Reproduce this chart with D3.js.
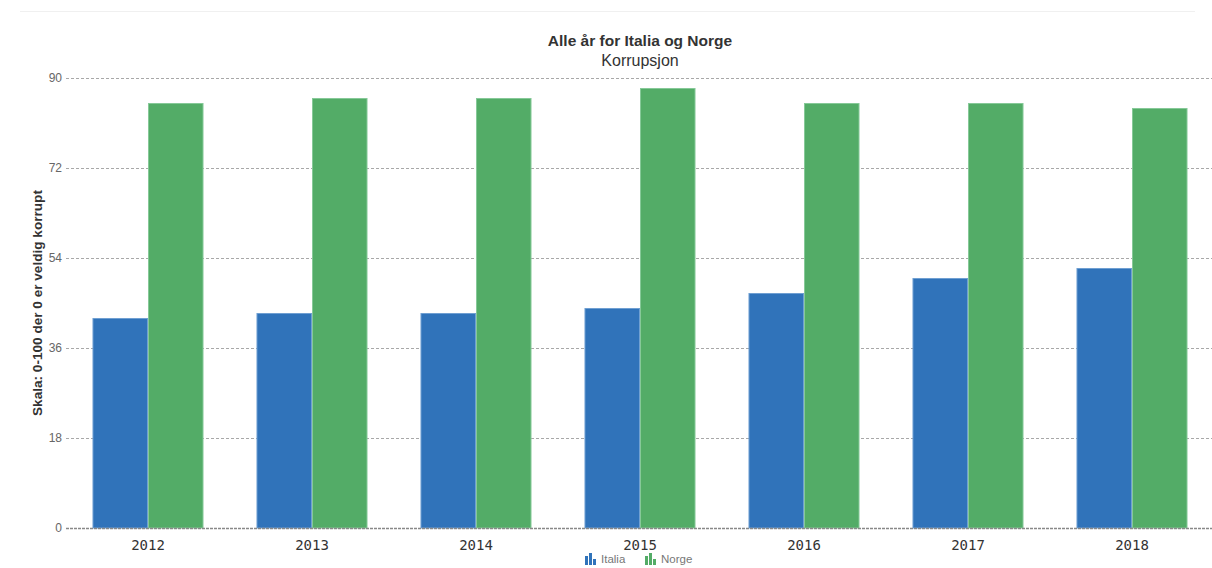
<!DOCTYPE html>
<html><head><meta charset="utf-8">
<script src="https://cdn.jsdelivr.net/npm/d3@7"></script>
<style>
html,body{margin:0;padding:0;background:#fff;}
svg{display:block;font-family:"Liberation Sans",Arial,sans-serif;}
</style></head>
<body>
<svg id="chart" width="1212" height="568"></svg>
<script>
const categories = ["2012","2013","2014","2015","2016","2017","2018"];
const seriesNames = ["Italia","Norge"];
const italia = [42,43,43,44,47,50,52];
const norge = [85,86,86,88,85,85,84];
const yTicks = [0,18,36,54,72,90];
const colors = ["#3073ba","#53ac67"];
const strokes = ["#6f9fd2","#86c998"];

const svg = d3.select("#chart");
const x0 = d3.scaleBand().domain(categories).range([66,1214]).paddingInner(0.323).paddingOuter(0.1615);
const x1 = d3.scaleBand().domain(seriesNames).range([0,x0.bandwidth()]);
const y = d3.scaleLinear().domain([0,90]).range([528,78]);

// top faint border
svg.append("line").attr("x1",20).attr("x2",1195).attr("y1",11.5).attr("y2",11.5).attr("stroke","#f0f0f0");

// gridlines
const grid = svg.append("g");
grid.selectAll("line").data(yTicks.filter(d=>d>0)).join("line")
  .attr("x1",66).attr("x2",1212).attr("y1",d=>Math.round(y(d))+0.5).attr("y2",d=>Math.round(y(d))+0.5)
  .attr("stroke","#a8a8a8").attr("stroke-dasharray","3,2").attr("stroke-width",1);

// y axis labels
const yAxis = d3.axisLeft(y).tickValues(yTicks).tickSize(0).tickPadding(4);
const ya = svg.append("g").attr("transform","translate(66,0)").call(yAxis);
ya.select(".domain").remove();
ya.selectAll("text").attr("fill","#666").attr("font-size","12px").attr("font-family","Liberation Sans, Arial, sans-serif");

// bars
const data = categories.map((c,i)=>({cat:c, vals:[italia[i], norge[i]]}));
const groups = svg.append("g").selectAll("g").data(data).join("g")
  .attr("transform",d=>`translate(${x0(d.cat)},0)`);
groups.selectAll("rect").data(d=>d.vals.map((v,j)=>({v,j,name:seriesNames[j]}))).join("rect")
  .attr("x",d=>x1(d.name)+0.5).attr("width",x1.bandwidth()-1)
  .attr("y",d=>y(d.v)+0.5).attr("height",d=>y(0)-y(d.v)-0.5)
  .attr("fill",d=>colors[d.j]).attr("stroke",d=>strokes[d.j]).attr("stroke-width",1);

// x axis baseline
svg.append("line").attr("x1",66).attr("x2",1212).attr("y1",528.5).attr("y2",528.5)
  .attr("stroke","#888").attr("stroke-dasharray","3,1").attr("stroke-width",1.5);

// x axis labels
const xAxis = d3.axisBottom(x0).tickSize(0).tickPadding(12);
const xa = svg.append("g").attr("transform","translate(0,528)").call(xAxis);
xa.select(".domain").remove();
xa.selectAll("text").attr("fill","#333").attr("font-size","14px").attr("font-family","DejaVu Sans Mono, monospace");

// y axis title
svg.append("text").attr("transform","translate(42,303) rotate(-90)").attr("text-anchor","middle")
  .attr("font-size","13.6px").attr("font-weight","bold").attr("fill","#333")
  .text("Skala: 0-100 der 0 er veldig korrupt");

// titles
svg.append("text").attr("x",640).attr("y",46).attr("text-anchor","middle").attr("font-size","15.5px")
  .attr("font-weight","bold").attr("fill","#333").text("Alle år for Italia og Norge");
svg.append("text").attr("x",640).attr("y",66).attr("text-anchor","middle").attr("font-size","16px")
  .attr("fill","#333").text("Korrupsjon");

// legend
const legendX = [585, 645];
const lg = svg.append("g").selectAll("g").data(seriesNames).join("g")
  .attr("transform",(d,i)=>`translate(${legendX[i]},553)`);
lg.each(function(d,i){
  const g = d3.select(this);
  const hs = [9,12,6];
  hs.forEach((h,k)=>{
    g.append("rect").attr("x",k*4).attr("y",12-h).attr("width",3).attr("height",h).attr("fill",colors[i]);
  });
  g.append("text").attr("x",16).attr("y",10).attr("font-size","11.5px").attr("fill","#777").text(d);
});
</script>
</body></html>
